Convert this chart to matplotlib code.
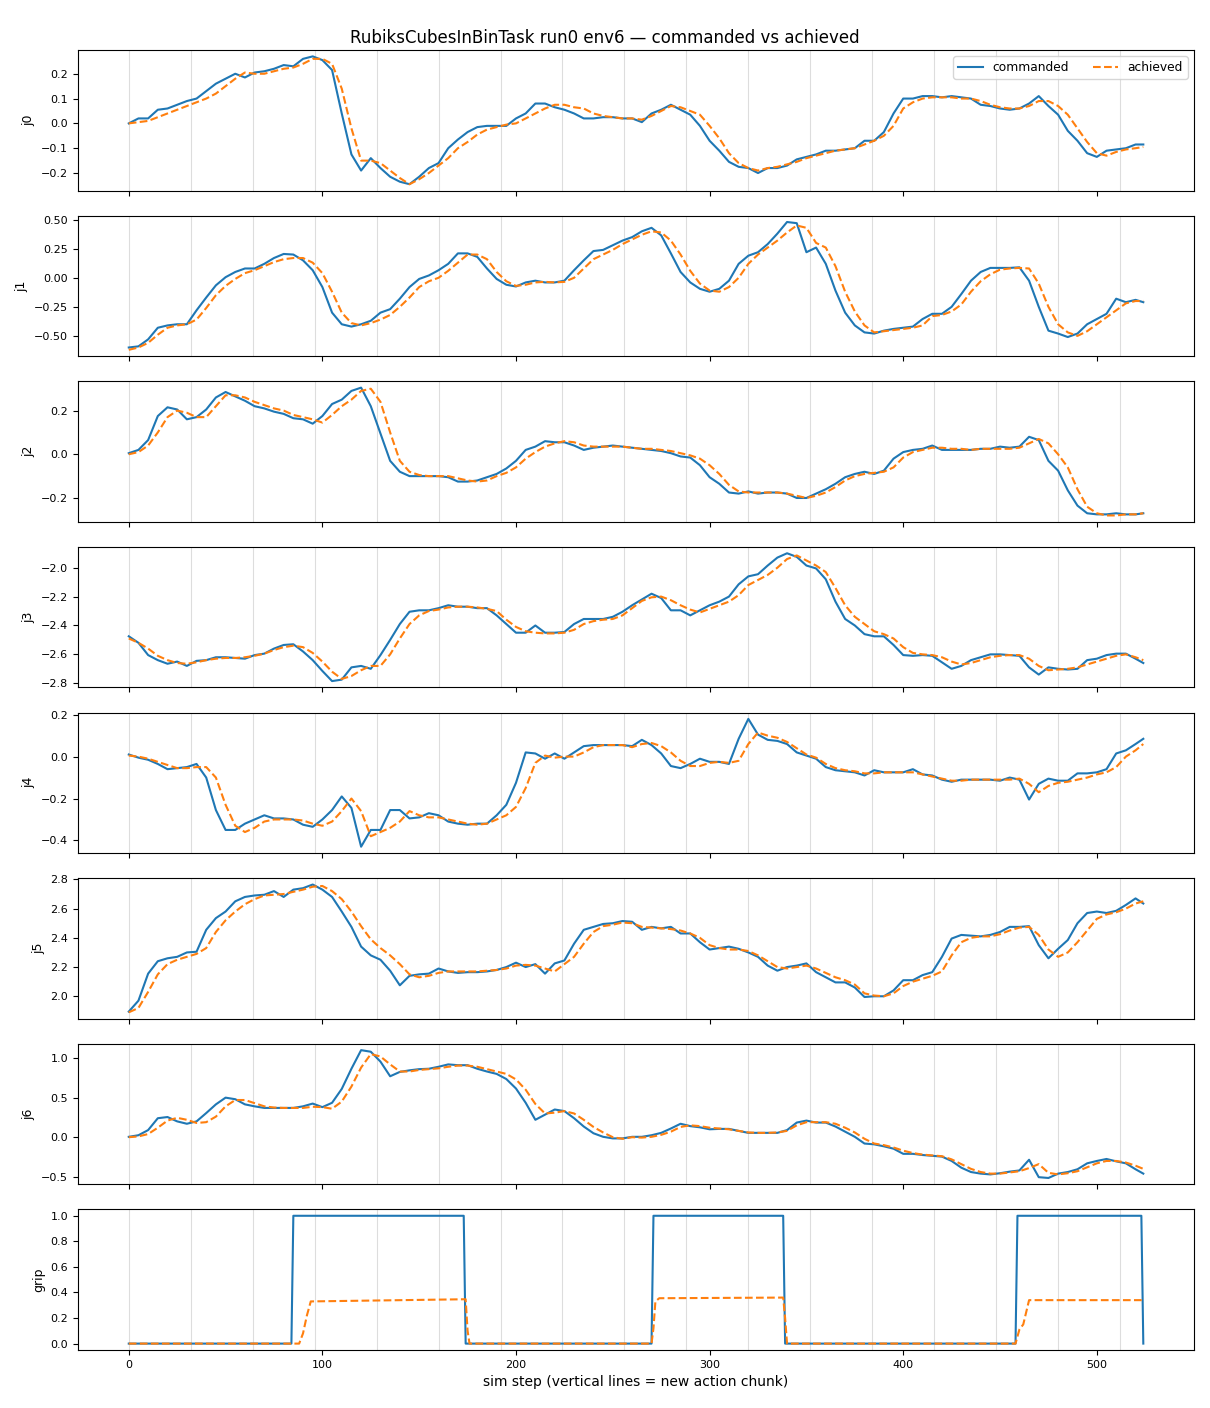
import numpy as np
import matplotlib
matplotlib.use("Agg")
from matplotlib import pyplot as plt

TITLE = "RubiksCubesInBinTask run0 env6 \u2014 commanded vs achieved"
XLABEL = "sim step (vertical lines = new action chunk)"
JOINTS = ["j0", "j1", "j2", "j3", "j4", "j5", "j6"]
CHUNK = 32
LAST_STEP = 524

# sampled every 5 sim steps, plus the last step
STEPS = list(range(0, 521, 5)) + [LAST_STEP]

J0_CMD = [0.0, 0.02, 0.02, 0.055, 0.06, 0.075, 0.09, 0.10, 0.13, 0.16,
          0.18, 0.20, 0.185, 0.205, 0.21, 0.22, 0.235, 0.23, 0.26, 0.27,
          0.255, 0.215, 0.04, -0.125, -0.19, -0.14, -0.18, -0.215, -0.235, -0.245,
          -0.215, -0.18, -0.16, -0.1, -0.065, -0.035, -0.015, -0.01, -0.01, -0.01,
          0.02, 0.04, 0.08, 0.08, 0.065, 0.055, 0.04, 0.02, 0.02, 0.025,
          0.025, 0.02, 0.02, 0.005, 0.04, 0.055, 0.075, 0.055, 0.035, -0.01,
          -0.07, -0.11, -0.155, -0.175, -0.18, -0.2, -0.18, -0.18, -0.17, -0.145,
          -0.135, -0.125, -0.11, -0.11, -0.105, -0.1, -0.07, -0.07, -0.035, 0.04,
          0.10, 0.10, 0.11, 0.11, 0.105, 0.11, 0.105, 0.10, 0.075, 0.07,
          0.06, 0.055, 0.06, 0.08, 0.11, 0.07, 0.035, -0.03, -0.07, -0.12,
          -0.135, -0.11, -0.105, -0.1, -0.085, -0.085]
J0_ACT = [0.0, 0.005, 0.01, 0.025, 0.04, 0.055, 0.07, 0.085, 0.10, 0.12,
          0.15, 0.18, 0.205, 0.20, 0.20, 0.21, 0.22, 0.225, 0.24, 0.26,
          0.26, 0.24, 0.14, -0.02, -0.15, -0.15, -0.16, -0.19, -0.22, -0.245,
          -0.225, -0.2, -0.17, -0.14, -0.1, -0.075, -0.045, -0.025, -0.015, -0.005,
          0.0, 0.02, 0.04, 0.06, 0.075, 0.075, 0.065, 0.06, 0.04, 0.03,
          0.025, 0.02, 0.02, 0.015, 0.03, 0.05, 0.07, 0.065, 0.05, 0.035,
          -0.01, -0.06, -0.12, -0.16, -0.18, -0.19, -0.18, -0.175, -0.165, -0.155,
          -0.14, -0.13, -0.12, -0.11, -0.105, -0.1, -0.085, -0.07, -0.05, -0.01,
          0.06, 0.085, 0.10, 0.105, 0.105, 0.105, 0.10, 0.10, 0.09, 0.075,
          0.065, 0.06, 0.06, 0.07, 0.09, 0.09, 0.07, 0.035, -0.02, -0.075,
          -0.12, -0.13, -0.115, -0.105, -0.1, -0.095]

J1_CMD = [-0.60, -0.59, -0.53, -0.43, -0.41, -0.40, -0.40, -0.28, -0.17, -0.065,
          0.005, 0.05, 0.08, 0.08, 0.12, 0.17, 0.205, 0.20, 0.15, 0.065,
          -0.08, -0.30, -0.40, -0.42, -0.40, -0.37, -0.30, -0.27, -0.18, -0.08,
          -0.01, 0.02, 0.065, 0.12, 0.21, 0.21, 0.18, 0.08, -0.01, -0.06,
          -0.075, -0.04, -0.025, -0.04, -0.04, -0.025, 0.065, 0.15, 0.23, 0.24,
          0.28, 0.32, 0.35, 0.40, 0.43, 0.365, 0.21, 0.05, -0.04, -0.095,
          -0.12, -0.095, -0.025, 0.12, 0.19, 0.22, 0.29, 0.38, 0.48, 0.47,
          0.22, 0.26, 0.12, -0.11, -0.30, -0.41, -0.47, -0.48, -0.455, -0.44,
          -0.43, -0.42, -0.355, -0.31, -0.31, -0.25, -0.14, -0.025, 0.05, 0.085,
          0.085, 0.085, 0.09, -0.025, -0.25, -0.455, -0.48, -0.51, -0.48, -0.40,
          -0.355, -0.31, -0.18, -0.21, -0.19, -0.21]
J1_ACT = [-0.62, -0.60, -0.56, -0.49, -0.43, -0.41, -0.40, -0.36, -0.26, -0.15,
          -0.07, -0.01, 0.04, 0.065, 0.10, 0.135, 0.16, 0.17, 0.17, 0.13,
          0.04, -0.12, -0.30, -0.39, -0.41, -0.39, -0.36, -0.32, -0.25, -0.17,
          -0.08, -0.03, 0.0, 0.06, 0.13, 0.20, 0.20, 0.16, 0.05, -0.03,
          -0.07, -0.06, -0.04, -0.035, -0.04, -0.035, 0.0, 0.08, 0.16, 0.20,
          0.24, 0.29, 0.33, 0.37, 0.40, 0.39, 0.32, 0.20, 0.06, -0.05,
          -0.11, -0.12, -0.08, 0.0, 0.12, 0.20, 0.26, 0.32, 0.39, 0.45,
          0.43, 0.30, 0.26, 0.10, -0.12, -0.29, -0.41, -0.47, -0.46, -0.45,
          -0.44, -0.43, -0.41, -0.33, -0.32, -0.29, -0.23, -0.12, -0.03, 0.03,
          0.07, 0.08, 0.085, 0.08, -0.05, -0.25, -0.40, -0.47, -0.50, -0.46,
          -0.40, -0.34, -0.28, -0.22, -0.20, -0.20]

J2_CMD = [0.005, 0.02, 0.065, 0.175, 0.215, 0.205, 0.16, 0.17, 0.205, 0.26,
          0.285, 0.265, 0.245, 0.22, 0.21, 0.195, 0.185, 0.165, 0.16, 0.14,
          0.175, 0.23, 0.25, 0.29, 0.305, 0.22, 0.095, -0.03, -0.08, -0.10,
          -0.10, -0.10, -0.10, -0.105, -0.125, -0.125, -0.12, -0.105, -0.09, -0.065,
          -0.03, 0.02, 0.035, 0.06, 0.055, 0.055, 0.04, 0.02, 0.03, 0.035,
          0.04, 0.035, 0.03, 0.025, 0.02, 0.015, 0.005, -0.01, -0.015, -0.05,
          -0.105, -0.135, -0.175, -0.18, -0.17, -0.18, -0.175, -0.175, -0.18, -0.20,
          -0.20, -0.18, -0.16, -0.135, -0.105, -0.09, -0.08, -0.09, -0.075, -0.02,
          0.01, 0.02, 0.025, 0.04, 0.02, 0.02, 0.02, 0.02, 0.025, 0.025,
          0.035, 0.03, 0.035, 0.08, 0.065, -0.03, -0.075, -0.165, -0.235, -0.27,
          -0.275, -0.275, -0.27, -0.275, -0.275, -0.27]
J2_ACT = [0.0, 0.01, 0.04, 0.10, 0.17, 0.20, 0.19, 0.17, 0.17, 0.22,
          0.27, 0.27, 0.26, 0.24, 0.225, 0.21, 0.20, 0.18, 0.17, 0.16,
          0.145, 0.18, 0.22, 0.25, 0.29, 0.30, 0.24, 0.10, -0.03, -0.08,
          -0.095, -0.10, -0.10, -0.10, -0.11, -0.12, -0.125, -0.12, -0.10, -0.085,
          -0.06, -0.02, 0.01, 0.035, 0.05, 0.06, 0.055, 0.04, 0.035, 0.035,
          0.035, 0.035, 0.03, 0.025, 0.025, 0.02, 0.015, 0.005, -0.005, -0.02,
          -0.05, -0.09, -0.14, -0.17, -0.175, -0.175, -0.175, -0.175, -0.18, -0.19,
          -0.20, -0.19, -0.175, -0.15, -0.12, -0.10, -0.09, -0.085, -0.08, -0.06,
          -0.015, 0.01, 0.02, 0.03, 0.03, 0.025, 0.025, 0.02, 0.025, 0.025,
          0.025, 0.025, 0.03, 0.05, 0.07, 0.05, 0.0, -0.06, -0.16, -0.24,
          -0.27, -0.28, -0.28, -0.275, -0.275, -0.27]

J3_CMD = [-2.475, -2.52, -2.605, -2.64, -2.665, -2.65, -2.68, -2.645, -2.64, -2.62,
          -2.62, -2.625, -2.63, -2.605, -2.595, -2.56, -2.535, -2.53, -2.58, -2.64,
          -2.715, -2.785, -2.775, -2.69, -2.68, -2.70, -2.605, -2.50, -2.39, -2.305,
          -2.295, -2.295, -2.28, -2.26, -2.27, -2.27, -2.28, -2.28, -2.33, -2.39,
          -2.45, -2.45, -2.40, -2.45, -2.45, -2.445, -2.39, -2.355, -2.355, -2.355,
          -2.34, -2.305, -2.26, -2.22, -2.18, -2.21, -2.295, -2.295, -2.33, -2.295,
          -2.26, -2.235, -2.20, -2.115, -2.06, -2.045, -1.985, -1.93, -1.90, -1.925,
          -1.985, -2.005, -2.08, -2.235, -2.355, -2.40, -2.46, -2.475, -2.475, -2.535,
          -2.605, -2.61, -2.605, -2.61, -2.655, -2.70, -2.68, -2.64, -2.62, -2.60,
          -2.60, -2.605, -2.61, -2.69, -2.74, -2.69, -2.70, -2.705, -2.70, -2.64,
          -2.63, -2.605, -2.595, -2.595, -2.63, -2.66]
J3_ACT = [-2.49, -2.52, -2.56, -2.61, -2.64, -2.66, -2.665, -2.655, -2.64, -2.63,
          -2.625, -2.625, -2.62, -2.61, -2.595, -2.57, -2.55, -2.54, -2.55, -2.59,
          -2.65, -2.72, -2.77, -2.75, -2.71, -2.68, -2.68, -2.60, -2.49, -2.39,
          -2.33, -2.30, -2.29, -2.275, -2.27, -2.27, -2.275, -2.285, -2.30, -2.36,
          -2.41, -2.44, -2.45, -2.455, -2.455, -2.45, -2.43, -2.39, -2.37, -2.36,
          -2.355, -2.33, -2.28, -2.23, -2.205, -2.20, -2.225, -2.26, -2.29, -2.31,
          -2.285, -2.26, -2.235, -2.19, -2.12, -2.085, -2.05, -2.00, -1.94, -1.915,
          -1.95, -1.985, -2.03, -2.14, -2.26, -2.34, -2.39, -2.44, -2.46, -2.49,
          -2.55, -2.59, -2.60, -2.605, -2.62, -2.65, -2.67, -2.66, -2.64, -2.62,
          -2.61, -2.605, -2.605, -2.63, -2.68, -2.71, -2.705, -2.70, -2.69, -2.67,
          -2.65, -2.63, -2.61, -2.60, -2.62, -2.64]

J4_CMD = [0.01, -0.005, -0.015, -0.035, -0.06, -0.055, -0.05, -0.035, -0.10, -0.255,
          -0.35, -0.35, -0.32, -0.30, -0.28, -0.295, -0.295, -0.30, -0.325, -0.335,
          -0.30, -0.255, -0.19, -0.245, -0.43, -0.35, -0.35, -0.255, -0.255, -0.295,
          -0.29, -0.27, -0.28, -0.31, -0.32, -0.325, -0.32, -0.32, -0.28, -0.23,
          -0.125, 0.02, 0.015, -0.01, 0.015, -0.01, 0.02, 0.05, 0.055, 0.055,
          0.055, 0.055, 0.05, 0.08, 0.055, 0.015, -0.045, -0.055, -0.035, -0.01,
          -0.025, -0.025, -0.035, 0.085, 0.18, 0.105, 0.08, 0.075, 0.06, 0.02,
          0.005, -0.01, -0.05, -0.065, -0.07, -0.075, -0.09, -0.065, -0.075, -0.075,
          -0.075, -0.06, -0.085, -0.09, -0.11, -0.12, -0.11, -0.11, -0.11, -0.11,
          -0.115, -0.10, -0.11, -0.205, -0.13, -0.105, -0.115, -0.115, -0.08, -0.08,
          -0.075, -0.06, 0.015, 0.03, 0.06, 0.085]
J4_ACT = [0.005, 0.0, -0.01, -0.025, -0.04, -0.055, -0.055, -0.05, -0.05, -0.10,
          -0.23, -0.33, -0.36, -0.34, -0.31, -0.30, -0.30, -0.30, -0.305, -0.32,
          -0.33, -0.31, -0.26, -0.20, -0.26, -0.38, -0.36, -0.34, -0.31, -0.26,
          -0.28, -0.29, -0.29, -0.30, -0.31, -0.32, -0.325, -0.32, -0.30, -0.28,
          -0.24, -0.15, -0.03, 0.005, -0.005, 0.0, 0.0, 0.02, 0.045, 0.055,
          0.055, 0.055, 0.045, 0.06, 0.065, 0.05, 0.02, -0.02, -0.045, -0.045,
          -0.03, -0.025, -0.03, -0.02, 0.06, 0.115, 0.10, 0.09, 0.07, 0.04,
          0.01, -0.005, -0.035, -0.055, -0.065, -0.07, -0.08, -0.08, -0.075, -0.075,
          -0.075, -0.075, -0.085, -0.095, -0.105, -0.115, -0.115, -0.11, -0.11, -0.11,
          -0.11, -0.11, -0.105, -0.13, -0.17, -0.14, -0.125, -0.12, -0.11, -0.10,
          -0.085, -0.075, -0.05, 0.0, 0.03, 0.06]

J5_CMD = [1.895, 1.97, 2.155, 2.24, 2.26, 2.27, 2.30, 2.305, 2.455, 2.535,
          2.58, 2.65, 2.68, 2.69, 2.695, 2.72, 2.68, 2.73, 2.74, 2.765,
          2.73, 2.68, 2.58, 2.475, 2.34, 2.28, 2.25, 2.175, 2.075, 2.14,
          2.15, 2.155, 2.19, 2.17, 2.16, 2.165, 2.165, 2.17, 2.18, 2.20,
          2.23, 2.20, 2.22, 2.155, 2.225, 2.245, 2.36, 2.455, 2.475, 2.495,
          2.50, 2.515, 2.51, 2.455, 2.475, 2.465, 2.475, 2.43, 2.43, 2.37,
          2.32, 2.33, 2.34, 2.325, 2.30, 2.27, 2.21, 2.175, 2.20, 2.21,
          2.225, 2.165, 2.13, 2.095, 2.095, 2.06, 1.995, 2.0, 2.0, 2.04,
          2.11, 2.11, 2.145, 2.165, 2.27, 2.395, 2.42, 2.415, 2.41, 2.42,
          2.44, 2.475, 2.475, 2.48, 2.35, 2.26, 2.325, 2.385, 2.50, 2.57,
          2.58, 2.57, 2.585, 2.625, 2.67, 2.635]
J5_ACT = [1.89, 1.92, 2.03, 2.15, 2.22, 2.25, 2.27, 2.29, 2.33, 2.44,
          2.52, 2.58, 2.63, 2.665, 2.69, 2.695, 2.70, 2.715, 2.73, 2.75,
          2.755, 2.72, 2.665, 2.58, 2.48, 2.39, 2.33, 2.28, 2.22, 2.15,
          2.13, 2.14, 2.16, 2.17, 2.17, 2.17, 2.17, 2.175, 2.18, 2.19,
          2.21, 2.215, 2.21, 2.19, 2.17, 2.22, 2.27, 2.36, 2.44, 2.48,
          2.49, 2.505, 2.50, 2.475, 2.47, 2.465, 2.46, 2.45, 2.43, 2.40,
          2.35, 2.33, 2.32, 2.32, 2.31, 2.28, 2.24, 2.20, 2.19, 2.20,
          2.21, 2.19, 2.16, 2.13, 2.11, 2.08, 2.02, 2.005, 2.0, 2.02,
          2.07, 2.10, 2.12, 2.14, 2.17, 2.28, 2.37, 2.40, 2.41, 2.41,
          2.425, 2.45, 2.47, 2.475, 2.42, 2.32, 2.27, 2.30, 2.37, 2.45,
          2.53, 2.56, 2.575, 2.60, 2.635, 2.65]

J6_CMD = [0.005, 0.025, 0.09, 0.24, 0.255, 0.20, 0.17, 0.20, 0.305, 0.415,
          0.50, 0.48, 0.415, 0.39, 0.37, 0.37, 0.37, 0.37, 0.39, 0.425,
          0.38, 0.435, 0.61, 0.865, 1.10, 1.08, 0.955, 0.77, 0.825, 0.845,
          0.86, 0.865, 0.89, 0.92, 0.91, 0.91, 0.865, 0.83, 0.80, 0.735,
          0.615, 0.435, 0.22, 0.285, 0.35, 0.33, 0.24, 0.135, 0.05, 0.005,
          -0.015, -0.015, 0.005, 0.005, 0.025, 0.055, 0.11, 0.17, 0.14, 0.125,
          0.10, 0.105, 0.105, 0.08, 0.055, 0.055, 0.055, 0.055, 0.09, 0.185,
          0.21, 0.185, 0.185, 0.135, 0.07, 0.005, -0.08, -0.09, -0.115, -0.145,
          -0.21, -0.21, -0.225, -0.235, -0.245, -0.30, -0.385, -0.44, -0.46, -0.47,
          -0.455, -0.435, -0.42, -0.285, -0.505, -0.515, -0.46, -0.44, -0.405, -0.33,
          -0.30, -0.275, -0.305, -0.33, -0.405, -0.46]
J6_ACT = [0.0, 0.01, 0.04, 0.12, 0.21, 0.245, 0.22, 0.18, 0.19, 0.26,
          0.39, 0.47, 0.47, 0.43, 0.39, 0.375, 0.37, 0.37, 0.37, 0.385,
          0.38, 0.36, 0.45, 0.64, 0.88, 1.05, 1.02, 0.92, 0.83, 0.83,
          0.85, 0.86, 0.87, 0.89, 0.905, 0.905, 0.89, 0.86, 0.83, 0.80,
          0.73, 0.60, 0.42, 0.30, 0.31, 0.33, 0.30, 0.22, 0.13, 0.06,
          0.0, -0.02, 0.0, -0.005, 0.005, 0.03, 0.07, 0.13, 0.15, 0.14,
          0.12, 0.11, 0.10, 0.08, 0.06, 0.055, 0.055, 0.06, 0.08, 0.15,
          0.19, 0.19, 0.19, 0.17, 0.12, 0.06, -0.02, -0.08, -0.10, -0.13,
          -0.17, -0.20, -0.22, -0.23, -0.24, -0.28, -0.34, -0.40, -0.44, -0.46,
          -0.46, -0.445, -0.43, -0.39, -0.34, -0.45, -0.47, -0.455, -0.43, -0.38,
          -0.33, -0.30, -0.30, -0.32, -0.36, -0.40]

# gripper: step changes, given as breakpoints
GRIP_CMD_X = [0, 84, 85, 173, 174, 270, 271, 338, 339, 458, 459, 523, 524]
GRIP_CMD_Y = [0, 0, 1, 1, 0, 0, 1, 1, 0, 0, 1, 1, 0]
GRIP_ACT_X = [0, 88, 90, 92, 94, 174, 175, 176, 270, 271, 272, 274, 338, 339,
              340, 458, 460, 462, 465, 524]
GRIP_ACT_Y = [0, 0, 0.08, 0.22, 0.33, 0.347, 0.1, 0, 0, 0.12, 0.33, 0.355, 0.36,
              0.2, 0, 0, 0.11, 0.15, 0.34, 0.34]

COMMANDED = [J0_CMD, J1_CMD, J2_CMD, J3_CMD, J4_CMD, J5_CMD, J6_CMD]
ACHIEVED = [J0_ACT, J1_ACT, J2_ACT, J3_ACT, J4_ACT, J5_ACT, J6_ACT]


def draw_chunks(ax):
    for s in range(0, LAST_STEP + 1, CHUNK):
        ax.axvline(s, color="#dddddd", lw=0.8, zorder=0)


def main():
    fig, axes = plt.subplots(8, 1, sharex=True, figsize=(12.1, 14.08), dpi=100)
    fig.subplots_adjust(left=0.0645, right=0.9868, top=0.9645, bottom=0.0412,
                        hspace=0.178)

    for ax, name, cmd, act in zip(axes, JOINTS, COMMANDED, ACHIEVED):
        draw_chunks(ax)
        ax.plot(STEPS, cmd, color="tab:blue", lw=1.5, label="commanded")
        ax.plot(STEPS, act, color="tab:orange", lw=1.5, ls="--", label="achieved")
        ax.set_ylabel(name, fontsize=9)

    ax = axes[-1]
    draw_chunks(ax)
    ax.plot(GRIP_CMD_X, GRIP_CMD_Y, color="tab:blue", lw=1.5)
    ax.plot(GRIP_ACT_X, GRIP_ACT_Y, color="tab:orange", lw=1.5, ls="--")
    ax.set_ylabel("grip", fontsize=9)
    ax.set_xlabel(XLABEL, fontsize=10)

    for a in axes:
        a.tick_params(labelsize=8)

    axes[0].legend(loc="upper right", ncol=2, fontsize=8.8)
    fig.suptitle(TITLE, fontsize=12, y=0.9795)

    fig.savefig("out.png", dpi=100)


if __name__ == "__main__":
    main()
